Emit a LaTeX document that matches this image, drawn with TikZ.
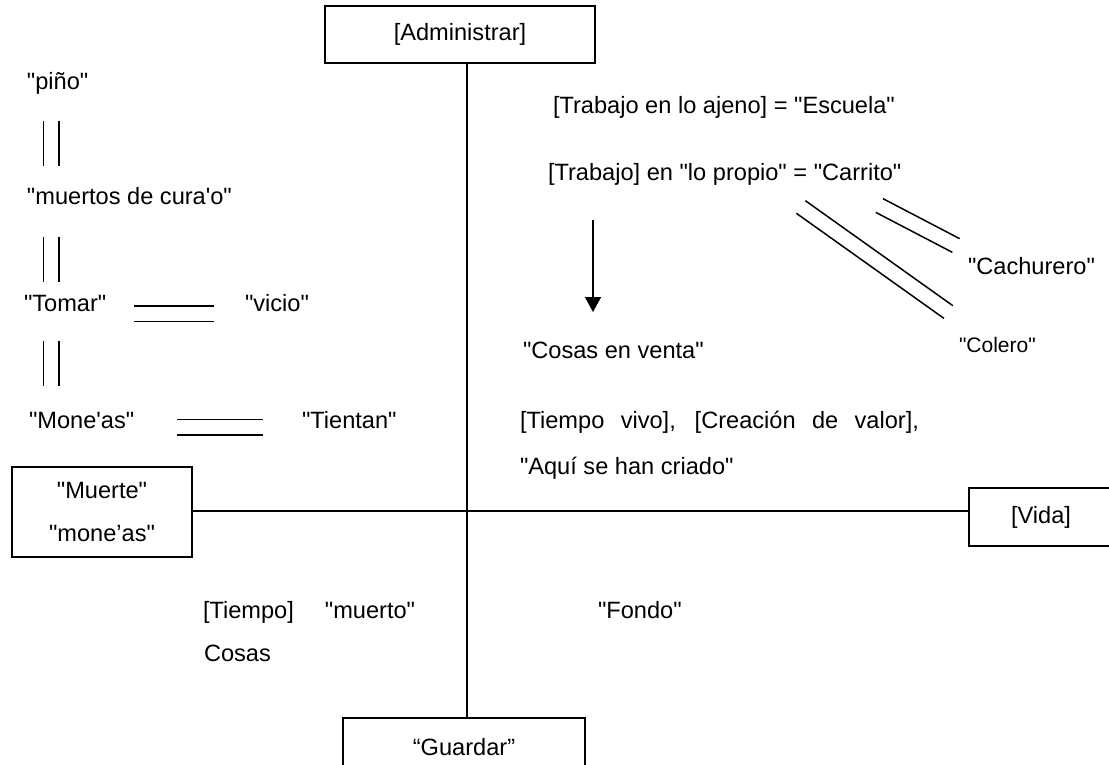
\documentclass[tikz,border=0pt]{standalone}
\usepackage{fontspec}
\setmainfont{Liberation Sans}[Ligatures=TeXOff]
\usetikzlibrary{arrows.meta, calc, positioning}
\newcommand{\dline}[2]{%
  \draw[lin] ($(#1)!7.75pt!90:(#2)$) -- ($(#2)!7.75pt!-90:(#1)$);%
  \draw[lin] ($(#1)!7.75pt!-90:(#2)$) -- ($(#2)!7.75pt!90:(#1)$);%
}

\begin{document}
\begin{tikzpicture}[x=1pt, y=-1pt]
  \tikzset{txt/.style={inner sep=0pt, outer sep=0pt, anchor=west, text height=17.7pt, text depth=5pt, font=\fontsize{23.6}{28}\selectfont}};
  \tikzset{box/.style={draw, line width=1.5pt, inner sep=0pt, align=center, font=\fontsize{23.6}{28}\selectfont}};
  \tikzset{lin/.style={line width=1.5pt}};
  \tikzset{arr/.style={line width=1.5pt, -{Triangle[width=16pt,length=15pt]}}};

  \useasboundingbox (0,0) rectangle (1109,765);

  % boxes
  \node[box, minimum width=270pt, minimum height=57pt] (admin) at (460,34.5) {[Administrar]};
  \node[box, minimum width=242pt, minimum height=58pt] (guardar) at (464,747) {“Guardar”};
  \node[box, minimum width=180pt, minimum height=90pt, font=\fontsize{23.6}{43}\selectfont] (muerte) at (102,512) {"Muerte"\\"mone’as"};
  \node[box, minimum width=144pt, minimum height=58pt] (vida) at (1041,517) {[Vida]};

  % axes
  \coordinate (o) at (467,511);
  \draw[lin] (admin.south -| o) -- (guardar.north -| o);
  \draw[lin] (muerte.east |- o) -- (vida.west |- o);

  % left column
  \node[txt] (pino) at (27,83) {"piño"};
  \node[txt] (muertos) at (27,198) {"muertos de cura'o"};
  \node[txt] (tomar) at (24,305) {"Tomar"};
  \node[txt] (vicio) at (245,305) {"vicio"};
  \node[txt] (mone) at (29,422) {"Mone'as"};
  \node[txt] (tientan) at (302,422) {"Tientan"};

  \coordinate (b1a) at ([xshift=24pt, yshift=-26.6pt]pino.south west);
  \coordinate (b1b) at ([xshift=24pt, yshift=20.6pt]muertos.north west);
  \coordinate (b2a) at ([xshift=24pt, yshift=-27.6pt]muertos.south west);
  \coordinate (b2b) at ([xshift=27pt, yshift=11.6pt]tomar.north west);
  \coordinate (b3a) at ([xshift=27pt, yshift=-24.6pt]tomar.south west);
  \coordinate (b3b) at ([xshift=22pt, yshift=24.6pt]mone.north west);
  \coordinate (h1a) at ([xshift=28pt, yshift=-8.5pt]tomar.east);
  \coordinate (h1b) at ([xshift=-31pt, yshift=-8.5pt]vicio.west);
  \coordinate (h2a) at ([xshift=43pt, yshift=-5pt]mone.east);
  \coordinate (h2b) at ([xshift=-39pt, yshift=-5pt]tientan.west);
  \dline{b1a}{b1b}
  \dline{b2a}{b2b}
  \dline{b3a}{b3b}
  \dline{h1a}{h1b}
  \dline{h2a}{h2b}

  % upper right
  \node[txt] (ajeno) at (553,107) {[Trabajo en lo ajeno] = "Escuela"};
  \node[txt] (propio) at (548,174) {[Trabajo] en "lo propio" = "Carrito"};
  \node[txt] (cachurero) at (968,268) {"Cachurero"};
  \node[txt, text height=15.75pt, text depth=4.4pt, font=\fontsize{21}{25}\selectfont] (colero) at (959,347) {"Colero"};
  \node[txt] (cosas) at (523,352) {"Cosas en venta"};

  \draw[arr] ($(propio.south west)+(45,35)$) -- ($(cosas.north west)+(70,-28.65)$);

  \coordinate (d1a) at ($(propio.south east)+(-100.5,21.65)$);
  \coordinate (d1b) at ($(colero.north)+(-49,-24.9)$);
  \coordinate (d2a) at ($(propio.south east)+(-22,20.15)$);
  \coordinate (d2b) at ($(cachurero.north)+(-75.5,-11.15)$);
  \dline{d1a}{d1b}
  \dline{d2a}{d2b}

  \node[txt] (vivo) at (520,422) {\makebox[399pt][s]{[Tiempo vivo], [Creación de valor],}};
  \node[txt] (criado) at (520,468) {"Aquí se han criado"};

  % lower half
  \node[txt] (tiempo) at (203,612) {[Tiempo]\hspace*{31pt}"muerto"};
  \node[txt] (cosasm) at (204,655) {Cosas};
  \node[txt] (fondo) at (598,612) {"Fondo"};
\end{tikzpicture}
\end{document}
